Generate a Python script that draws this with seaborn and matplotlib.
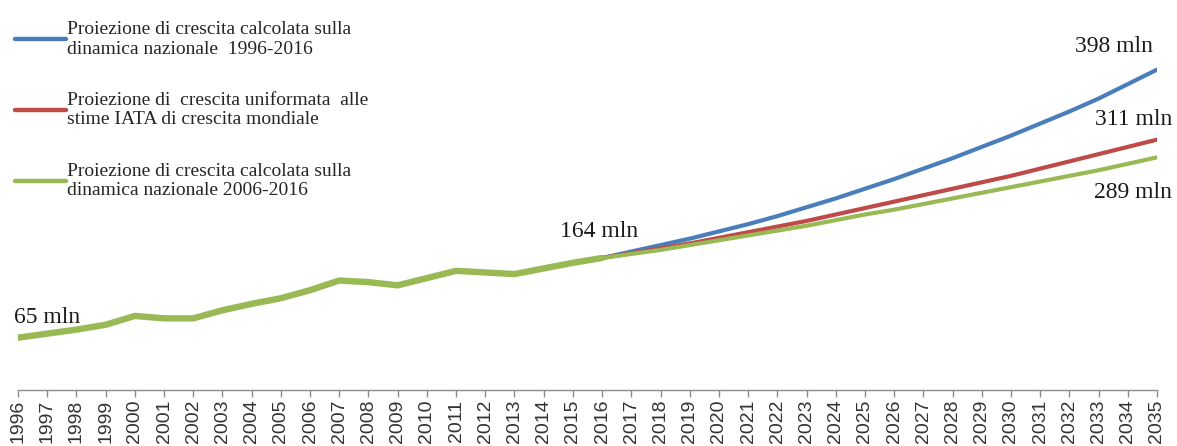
import numpy as np
import pandas as pd
import seaborn as sns
import matplotlib.pyplot as plt
from matplotlib.legend_handler import HandlerLine2D

# dati storici (mln passeggeri)
anni_storici = list(range(1996, 2017))
passeggeri = [65, 70, 75, 81, 92, 89, 89, 99, 107, 114, 124,
              136, 134, 130, 139, 148, 146, 144, 151, 158, 164]

# proiezioni 2016-2035
anni_proj = list(range(2016, 2036))
proj_1996 = [164, 172, 180, 188, 197, 206, 216, 227, 238, 250,
             262, 275, 288, 302, 316, 331, 346, 362, 380, 398]
proj_iata = [164, 170, 176, 182, 189, 196, 203, 210, 218, 226,
             234, 242, 250, 258, 266, 275, 284, 293, 302, 311]
proj_2006 = [164, 169, 174, 180, 186, 192, 198, 204, 211, 218,
             224, 231, 238, 245, 252, 259, 266, 273, 281, 289]

etichette = ["Proiezione di crescita calcolata sulla\ndinamica nazionale  1996-2016",
             "Proiezione di  crescita uniformata  alle\nstime IATA di crescita mondiale",
             "Proiezione di crescita calcolata sulla\ndinamica nazionale 2006-2016"]
colori = ["#4a7ebb", "#be4b48", "#98b954"]

sns.set_style("white")
plt.rcParams['font.family'] = ['Liberation Serif', 'DejaVu Serif']

fig = plt.figure(figsize=(11.77, 4.46), dpi=100)
ax = fig.add_axes([0.0153, 0.1256, 0.9677, 0.8744])

df_proj = pd.DataFrame({"anno": anni_proj, "b": proj_1996, "r": proj_iata, "g": proj_2006})
df_hist = pd.DataFrame({"anno": anni_storici, "v": passeggeri})

for col, c, lab in zip(["b", "r", "g"], colori, etichette):
    sns.lineplot(data=df_proj, x="anno", y=col, color=c, lw=3.0, ax=ax,
                 label=lab, solid_capstyle="round")
sns.lineplot(data=df_hist, x="anno", y="v", color=colori[2], lw=4.6, ax=ax,
             solid_capstyle="round")


class TopLine(HandlerLine2D):
    # tratto della legenda leggermente piu' spesso
    def create_artists(self, legend, orig_handle, xdescent, ydescent, width, height, fontsize, trans):
        arts = super().create_artists(legend, orig_handle, xdescent, ydescent, width, height, fontsize, trans)
        for a in arts:
            a.set_linewidth(3.2)
        return arts


h, l = ax.get_legend_handles_labels()
leg = fig.legend(h, l, loc="upper left", bbox_to_anchor=(0.0127, 0.953), frameon=False,
                 fontsize=14, handlelength=2.6, handletextpad=0.1, labelspacing=1.76,
                 borderpad=0, borderaxespad=0, handler_map={plt.Line2D: TopLine()})
ax.get_legend().remove()

ax.set_xlim(1996, 2035)
ax.set_ylim(0, 484.5)
ax.set_xticks(range(1996, 2036))
ax.set_xticklabels([str(a) for a in range(1996, 2036)], rotation=90,
                   family="Liberation Sans", fontsize=14, color="#333333")
ax.set_yticks([])
ax.set_xlabel("")
ax.set_ylabel("")
for s in ["top", "right", "left"]:
    ax.spines[s].set_visible(False)
ax.spines["bottom"].set_color("#8c8c8c")
ax.spines["bottom"].set_linewidth(1.0)
ax.tick_params(axis="x", bottom=True, direction="out", length=5, width=1,
               color="#8c8c8c", pad=2)

# etichette valori
kw = dict(textcoords="offset pixels", fontsize=17, color="#1a1a1a")
ax.annotate("65 mln", (1996, 65), xytext=(-4, 20), ha="left", va="center", **kw)
ax.annotate("164 mln", (2016, 164), xytext=(-3, 26), ha="center", va="center", **kw)
ax.annotate("398 mln", (2035, 398), xytext=(-4, 23), ha="right", va="center", **kw)
ax.annotate("311 mln", (2035, 311), xytext=(15, 20), ha="right", va="center", **kw)
ax.annotate("289 mln", (2035, 289), xytext=(15, -35), ha="right", va="center", **kw)

fig.savefig("out.png", dpi=100)
